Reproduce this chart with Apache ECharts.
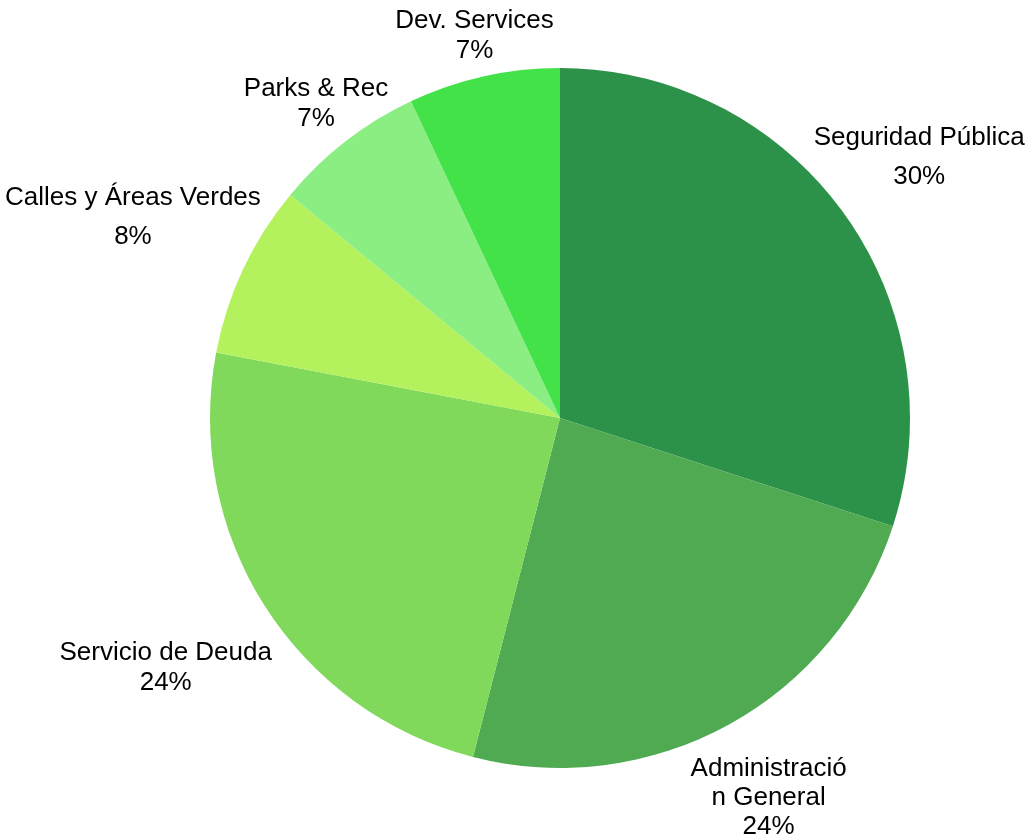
<!DOCTYPE html>
<html>
<head>
<meta charset="utf-8">
<script src="https://cdn.jsdelivr.net/npm/echarts@6/dist/echarts.min.js"></script>
<style>
html,body{margin:0;padding:0;background:#fff;}
#chart{width:1031px;height:840px;}
</style>
</head>
<body>
<div id="chart"></div>
<script>
// Data
var categories = ['Seguridad Pública', 'Administración General', 'Servicio de Deuda', 'Calles y Áreas Verdes', 'Parks & Rec', 'Dev. Services'];
var labelTexts = ['Seguridad Pública', 'Administració\nn General', 'Servicio de Deuda', 'Calles y Áreas Verdes', 'Parks & Rec', 'Dev. Services'];
var values = [30, 24, 24, 8, 7, 7];
var colors = ['#2D9249', '#4FAA52', '#80D95B', '#B3F25C', '#8AEE83', '#43E249'];

// Layout (not data): label centre distance from pie centre, label line heights
var CX = 560, CY = 418, R = 350;
var labelDist = [444, 433, 467, 472, 398, 392];
var labelLineHeight = [39, 29, 30, 39, 30, 30];

var total = values.reduce(function (a, b) { return a + b; }, 0);
var midAngles = [];
(function () {
  var cum = 0;
  for (var i = 0; i < values.length; i++) {
    midAngles.push((cum + values[i] / 2) / total * 2 * Math.PI);
    cum += values[i];
  }
})();

var chart = echarts.init(document.getElementById('chart'), null, { renderer: 'canvas' });
chart.setOption({
  backgroundColor: '#ffffff',
  animation: false,
  series: [{
    type: 'pie',
    center: [CX, CY],
    radius: [0, R],
    startAngle: 90,
    clockwise: true,
    avoidLabelOverlap: false,
    itemStyle: { borderWidth: 0 },
    label: {
      show: true,
      position: 'outside',
      color: '#000',
      fontFamily: 'Liberation Sans, Arial, sans-serif',
      fontSize: 26,
      lineHeight: 30,
      formatter: function (p) {
        return labelTexts[p.dataIndex] + '\n' + Math.round(p.percent) + '%';
      }
    },
    labelLine: { show: false },
    labelLayout: function (params) {
      var i = params.dataIndex;
      var a = midAngles[i];
      var d = labelDist[i];
      return { x: CX + Math.sin(a) * d, y: CY - Math.cos(a) * d, align: 'center', verticalAlign: 'middle' };
    },
    emphasis: { disabled: true },
    data: categories.map(function (c, i) {
      return { name: c, value: values[i], itemStyle: { color: colors[i] }, label: { lineHeight: labelLineHeight[i] } };
    })
  }]
});
</script>
</body>
</html>
